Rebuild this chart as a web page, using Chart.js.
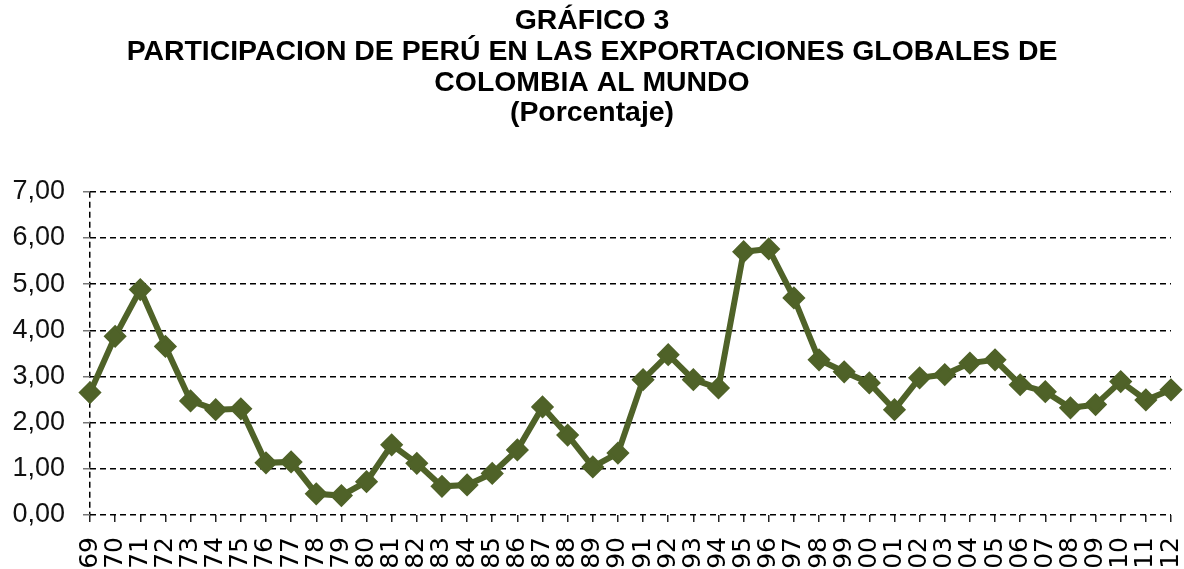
<!DOCTYPE html>
<html>
<head>
<meta charset="utf-8">
<script src="https://cdn.jsdelivr.net/npm/chart.js@4/dist/chart.umd.min.js"></script>
<style>
  html, body { margin: 0; padding: 0; background: #fff; overflow: hidden; }
  #wrap { width: 1184px; height: 600px; }
</style>
</head>
<body>
<div id="wrap"><canvas id="myChart"></canvas></div>
<script>
// years (two digits, as in the original axis)
const years = ['69','70','71','72','73','74','75','76','77','78','79','80','81','82','83','84','85','86','87','88','89','90',
  '91','92','93','94','95','96','97','98','99','00','01','02','03','04','05','06','07','08','09','10','11','12'];

// share of Peru in Colombia's exports (%)
const share = [2.65, 3.87, 4.88, 3.65, 2.47, 2.28, 2.30, 1.13, 1.15, 0.46, 0.42, 0.72, 1.52, 1.12, 0.62, 0.65, 0.90, 1.41,
  2.34, 1.73, 1.04, 1.34, 2.93, 3.47, 2.93, 2.75, 5.70, 5.76, 4.70, 3.36, 3.10, 2.86, 2.28, 2.97, 3.04, 3.29, 3.36,
  2.82, 2.67, 2.32, 2.39, 2.89, 2.49, 2.71];

const yTicks = [0, 1, 2, 3, 4, 5, 6, 7];

const titleLines = ['GRÁFICO 3', 'PARTICIPACION DE PERÚ EN LAS EXPORTACIONES GLOBALES DE', 'COLOMBIA AL MUNDO', '(Porcentaje)'];

const green = '#4f6228';

document.addEventListener('DOMContentLoaded', function() {
    const ctx = document.getElementById('myChart');

    new Chart(ctx, {
        type: 'line',
        data: {
            labels: years,
            datasets: [{
                data: share,
                borderColor: green,
                backgroundColor: green,
                borderWidth: 6,
                pointStyle: 'rectRot',
                pointRadius: 9.5,
                pointBorderWidth: 3,
                pointBackgroundColor: green,
                pointBorderColor: green,
                tension: 0
            }]
        },
        options: {
            responsive: true,
            maintainAspectRatio: false,
            animation: false,
            layout: { padding: { top: 0, right: 13, bottom: 0, left: 13 } },
            plugins: {
                legend: { display: false },
                tooltip: { enabled: false },
                title: {
                    display: true,
                    text: titleLines,
                    color: '#000',
                    font: { family: 'Liberation Sans, Arial, sans-serif', size: 28.4, weight: 'bold', lineHeight: 1.08 },
                    padding: { top: 6, bottom: 63 }
                }
            },
            scales: {
                x: {
                    offset: false,
                    grid: {
                        display: true,
                        drawOnChartArea: true,
                        color: (c) => c.index === 0 ? '#000' : 'rgba(0,0,0,0)',
                        lineWidth: 1.5,
                        drawTicks: true,
                        tickLength: 7,
                        tickColor: '#222',
                        tickWidth: 1.5
                    },
                    border: { display: false, dash: [6, 4] },
                    ticks: {
                        autoSkip: false,
                        minRotation: 90,
                        maxRotation: 90,
                        padding: 15,
                        color: '#000',
                        font: { family: 'DejaVu Sans, sans-serif', size: 25 }
                    },
                    afterFit: (scale) => {
                        scale.height = 85;
                        scale.paddingLeft = 0;
                        scale.paddingRight = 0;
                    }
                },
                y: {
                    min: 0,
                    max: 7,
                    afterBuildTicks: (scale) => { scale.ticks = yTicks.map(v => ({ value: v })); },
                    grid: {
                        color: '#000',
                        lineWidth: 1.5,
                        drawTicks: true,
                        tickLength: 7,
                        tickColor: '#777',
                        tickWidth: 1.5
                    },
                    border: { display: false, dash: [6, 4] },
                    ticks: {
                        padding: 18,
                        color: '#111',
                        font: { family: 'Liberation Sans, Arial, sans-serif', size: 27 },
                        callback: (v) => Number(v).toFixed(2).replace('.', ',')
                    },
                    afterFit: (scale) => { scale.width = 77; }
                }
            }
        }
    });
});
</script>
</body>
</html>
